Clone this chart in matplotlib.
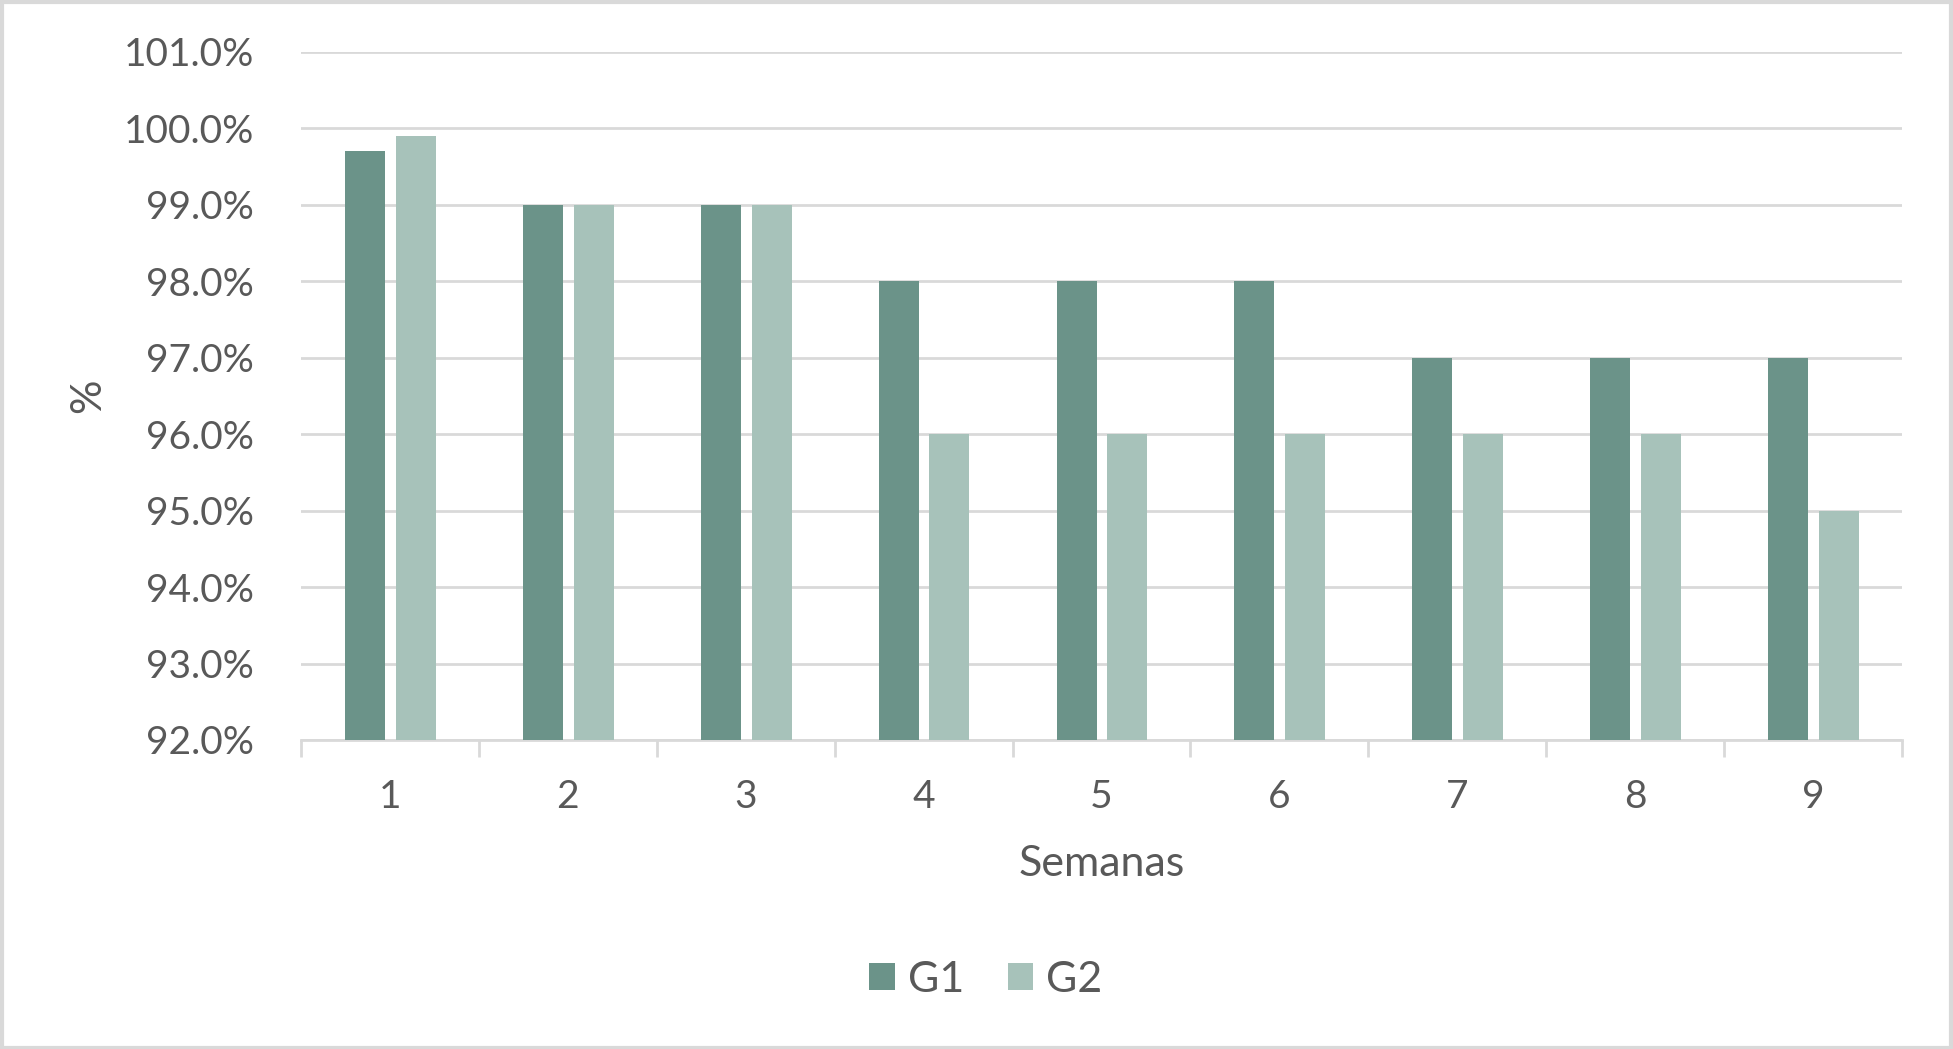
import numpy as np
import matplotlib.pyplot as plt

semanas = ['1', '2', '3', '4', '5', '6', '7', '8', '9']
g1 = [99.7, 99.0, 99.0, 98.0, 98.0, 98.0, 97.0, 97.0, 97.0]
g2 = [99.9, 99.0, 99.0, 96.0, 96.0, 96.0, 96.0, 96.0, 95.0]

plt.rcParams['font.family'] = ['Lato', 'DejaVu Sans']
txt = '#595959'
grid = '#d9d9d9'

fig = plt.figure(figsize=(19.53, 10.49), dpi=100)
ax = fig.add_axes([301/1953, 1 - 740/1049, 1601/1953, (740-52)/1049])

x = np.arange(len(semanas))
w = 0.225
ax.bar(x - 0.14, np.array(g1) - 92, w, bottom=92, color='#6b9389', label='G1', zorder=3)
ax.bar(x + 0.145, np.array(g2) - 92, w, bottom=92, color='#a7c2ba', label='G2', zorder=3)

ax.set_ylim(92, 101)
ax.set_xlim(-0.5, len(semanas) - 0.5)
ax.set_yticks(np.arange(92, 101.5, 1))
ax.set_yticklabels([f'{v:.1f}%' for v in np.arange(92, 101.5, 1)])
ax.set_xticks(x)
ax.set_xticklabels(semanas)
ax.set_xticks(np.arange(-0.5, len(semanas), 1), minor=True)
ax.tick_params(axis='x', which='major', length=0, pad=28, labelsize=28, labelcolor=txt)
ax.tick_params(axis='x', which='minor', length=12, width=2, color=grid)
ax.tick_params(axis='y', length=0, pad=34, labelsize=28, labelcolor=txt)
ax.yaxis.grid(True, color=grid, linewidth=2, zorder=0)
for s in ['top', 'right', 'left']:
    ax.spines[s].set_visible(False)
ax.spines['bottom'].set_color(grid)
ax.spines['bottom'].set_linewidth(2)

ax.set_xlabel('Semanas', fontsize=31, color=txt, labelpad=22)
fig.text(88/1953, 1 - 396/1049, '%', fontsize=31, color=txt, rotation=90,
         ha='center', va='center')

fig.legend(loc='center', bbox_to_anchor=(986/1953, 1 - 980/1049), ncol=2, frameon=False,
           fontsize=31, labelcolor=txt, handlelength=0.6, handleheight=0.6,
           handletextpad=0.3, columnspacing=1.0)

fig.patches.append(plt.Rectangle((0.001, 0.001), 0.998, 0.997, transform=fig.transFigure,
                                 fill=False, edgecolor=grid, linewidth=3))

plt.savefig('out.png', dpi=100)
